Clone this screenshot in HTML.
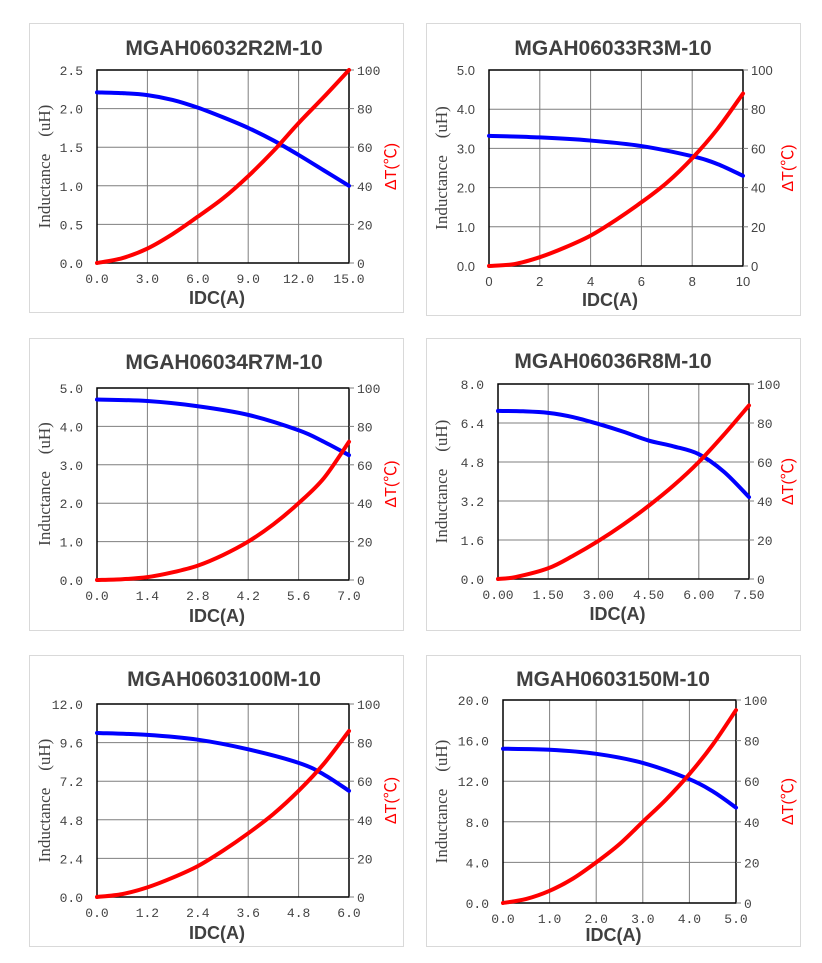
<!DOCTYPE html>
<html><head><meta charset="utf-8"><style>
html,body{margin:0;padding:0;background:#fff;width:822px;height:963px;overflow:hidden}
svg{position:absolute;left:0;top:0}
</style></head><body>
<svg id="s" width="822" height="963" xmlns="http://www.w3.org/2000/svg"></svg>
<script>
const charts=[
{p:[29,23,374,289],pl:[97,70,349,263],t:"MGAH06032R2M-10",ty:48,idy:298,xl:["0.0","3.0","6.0","9.0","12.0","15.0"],yl:["0.0","0.5","1.0","1.5","2.0","2.5"],sans:false,
 b:[[0,.884],[.1,.88],[.2,.87],[.3,.845],[.4,.805],[.5,.755],[.6,.7],[.7,.635],[.8,.56],[.9,.48],[1,.4]],
 r:[[0,0],[.1,.025],[.2,.075],[.3,.15],[.4,.24],[.5,.335],[.6,.45],[.7,.58],[.8,.725],[.9,.86],[1,1]]},
{p:[426,23,374,292],pl:[489,70,743,266],t:"MGAH06033R3M-10",ty:48,idy:300,xl:["0","2","4","6","8","10"],yl:["0.0","1.0","2.0","3.0","4.0","5.0"],sans:true,
 b:[[0,.664],[.2,.656],[.4,.64],[.6,.612],[.8,.56],[.9,.52],[1,.46]],
 r:[[0,0],[.1,.01],[.2,.045],[.3,.095],[.4,.155],[.5,.235],[.6,.325],[.7,.425],[.8,.55],[.9,.7],[1,.88]]},
{p:[29,338,374,292],pl:[97,388,349,580],t:"MGAH06034R7M-10",ty:362,idy:616,xl:["0.0","1.4","2.8","4.2","5.6","7.0"],yl:["0.0","1.0","2.0","3.0","4.0","5.0"],sans:false,
 b:[[0,.94],[.2,.932],[.4,.905],[.6,.86],[.8,.78],[.9,.72],[1,.65]],
 r:[[0,0],[.1,.004],[.2,.015],[.3,.04],[.4,.075],[.5,.13],[.6,.2],[.7,.29],[.8,.4],[.9,.53],[1,.72]]},
{p:[426,338,374,292],pl:[498,384,749,579],t:"MGAH06036R8M-10",ty:361,idy:614,xl:["0.00","1.50","3.00","4.50","6.00","7.50"],yl:["0.0","1.6","3.2","4.8","6.4","8.0"],sans:false,
 b:[[0,.862],[.1,.86],[.2,.852],[.3,.83],[.4,.795],[.5,.755],[.6,.71],[.7,.68],[.8,.64],[.9,.55],[1,.42]],
 r:[[0,0],[.07,.01],[.2,.055],[.3,.12],[.4,.195],[.5,.28],[.6,.375],[.7,.48],[.8,.6],[.9,.74],[1,.89]]},
{p:[29,655,374,291],pl:[97,704,349,897],t:"MGAH0603100M-10",ty:679,idy:933,xl:["0.0","1.2","2.4","3.6","4.8","6.0"],yl:["0.0","2.4","4.8","7.2","9.6","12.0"],sans:false,
 b:[[0,.85],[.2,.84],[.4,.815],[.6,.765],[.8,.695],[.9,.635],[1,.55]],
 r:[[0,0],[.1,.015],[.2,.05],[.3,.1],[.4,.16],[.5,.24],[.6,.33],[.7,.43],[.8,.55],[.9,.69],[1,.86]]},
{p:[426,655,374,291],pl:[503,700,736,903],t:"MGAH0603150M-10",ty:679,idy:935,xl:["0.0","1.0","2.0","3.0","4.0","5.0"],yl:["0.0","4.0","8.0","12.0","16.0","20.0"],sans:false,
 b:[[0,.76],[.2,.755],[.4,.735],[.6,.69],[.8,.61],[.9,.55],[1,.47]],
 r:[[0,0],[.1,.02],[.2,.06],[.3,.12],[.4,.2],[.5,.29],[.6,.4],[.7,.51],[.8,.635],[.9,.78],[1,.95]]}
];
function path(pts,pl){
 const [x0,y0,x1,y1]=pl;const P=pts.map(([a,b])=>[x0+a*(x1-x0),y1-b*(y1-y0)]);
 let d="M"+P[0][0]+","+P[0][1];
 for(let i=0;i<P.length-1;i++){const p0=P[i-1]||P[i],p1=P[i],p2=P[i+1],p3=P[i+2]||p2;
  d+=` C${p1[0]+(p2[0]-p0[0])/6},${p1[1]+(p2[1]-p0[1])/6} ${p2[0]-(p3[0]-p1[0])/6},${p2[1]-(p3[1]-p1[1])/6} ${p2[0]},${p2[1]}`;}
 return d;}
let h="";
const serif='font-family="Liberation Serif, serif"',sans='font-family="Liberation Sans, sans-serif"',mono='font-family="Liberation Mono, monospace"';
for(const c of charts){
 const [px,py,pw,ph]=c.p,[x0,y0,x1,y1]=c.pl;
 h+=`<rect x="${px+.5}" y="${py+.5}" width="${pw}" height="${ph}" fill="#fff" stroke="#d9d9d9"/>`;
 const tc=px+pw/2+(px<100?8:0);
 h+=`<text x="${tc}" y="${c.ty+7}" text-anchor="middle" ${sans} font-weight="bold" font-size="21" fill="#404040">${c.t}</text>`;
 for(let i=1;i<5;i++){const x=x0+i*(x1-x0)/5,y=y0+i*(y1-y0)/5;
  h+=`<line x1="${x}" y1="${y0}" x2="${x}" y2="${y1}" stroke="#7f7f7f" stroke-width="1"/><line x1="${x0}" y1="${y}" x2="${x1}" y2="${y}" stroke="#7f7f7f" stroke-width="1"/>`;}
 h+=`<rect x="${x0}" y="${y0}" width="${x1-x0}" height="${y1-y0}" fill="none" stroke="#000" stroke-width="1.5"/>`;
 const tf=c.sans?sans:mono;
 for(let i=0;i<6;i++){const x=x0+i*(x1-x0)/5,y=y1-i*(y1-y0)/5;
  h+=`<line x1="${x1}" y1="${y}" x2="${x1+5}" y2="${y}" stroke="#7f7f7f"/>`;
  h+=`<text x="${x0-14}" y="${y+5}" text-anchor="end" ${tf} font-size="13" fill="#444">${c.yl[i]}</text>`;
  h+=`<text x="${x1+8}" y="${y+5}" ${tf} font-size="13" fill="#444">${i*20}</text>`;
  h+=`<text x="${x}" y="${y1+20}" text-anchor="middle" ${tf} font-size="13" fill="#444">${c.xl[i]}</text>`;}
 h+=`<text x="${(x0+x1)/2-6}" y="${c.idy+6}" text-anchor="middle" ${sans} font-weight="bold" font-size="18" fill="#404040">IDC(A)</text>`;
 const ym=(y0+y1)/2;
 h+=`<text transform="translate(${px+21},${ym}) rotate(-90)" text-anchor="middle" ${serif} font-size="17" fill="#444">Inductance　(uH)</text>`;
 h+=`<text transform="translate(${px+pw-7},${ym}) rotate(-90)" text-anchor="middle" font-family="Liberation Sans, Noto Sans CJK SC, sans-serif" font-size="16" fill="#f00">ΔT(℃)</text>`;
 h+=`<path d="${path(c.b,c.pl)}" fill="none" stroke="#0000ff" stroke-width="4" stroke-linecap="round"/>`;
 h+=`<path d="${path(c.r,c.pl)}" fill="none" stroke="#ff0000" stroke-width="4" stroke-linecap="round"/>`;
}
document.getElementById("s").innerHTML=h;
</script>
</body></html>
